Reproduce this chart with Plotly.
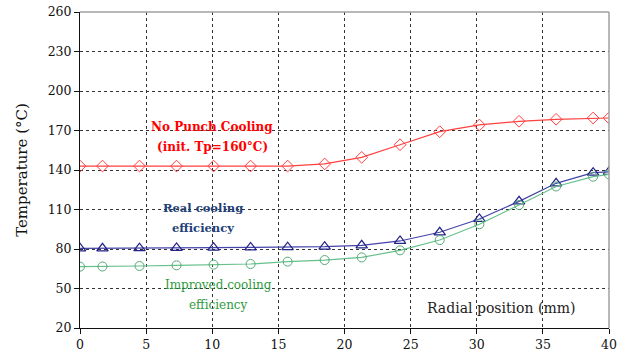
import plotly.graph_objects as go

# Radial positions of the measurement points (mm)
radial_mm = [0, 1.7, 4.5, 7.3, 10.1, 12.9, 15.7, 18.5, 21.3, 24.2, 27.2, 30.2, 33.2, 36.0, 38.8, 40]

# Temperatures (°C) for each cooling condition
no_punch_cooling = [143, 143, 143, 143, 143, 143, 143, 144.6, 149.6, 159.2, 169.1, 174.2, 177.0, 178.5, 179.5, 179.5]
real_cooling = [80.5, 80.5, 80.6, 80.8, 81.0, 81.2, 81.4, 81.8, 82.8, 86.1, 92.7, 102.8, 116.2, 129.9, 138.0, 138.6]
improved_cooling = [66.6, 66.7, 67.1, 67.6, 68.1, 68.6, 70.4, 71.6, 73.6, 79.0, 86.8, 98.8, 113.4, 127.5, 134.9, 136.7]

x_ticks = [0, 5, 10, 15, 20, 25, 30, 35, 40]
y_ticks = [20, 50, 80, 110, 140, 170, 200, 230, 260]

FONT = "DejaVu Serif"

fig = go.Figure()

fig.add_trace(go.Scatter(
    x=radial_mm, y=no_punch_cooling, mode="lines+markers",
    line=dict(color="#FF4040", width=1.2),
    marker=dict(symbol="diamond-open", size=9, color="#FF4040", line=dict(width=1)),
    showlegend=False,
))
fig.add_trace(go.Scatter(
    x=radial_mm, y=real_cooling, mode="lines+markers",
    line=dict(color="#4444AA", width=1.2),
    marker=dict(symbol="triangle-up-open", size=10, color="#222288", line=dict(width=1.2)),
    showlegend=False,
))
fig.add_trace(go.Scatter(
    x=radial_mm, y=improved_cooling, mode="lines+markers",
    line=dict(color="#66C08A", width=1.2),
    marker=dict(symbol="circle-open", size=9, color="#55AA77", line=dict(width=1)),
    showlegend=False,
))

annotations = [
    dict(x=10.0, y=172.7, text="<b>No Punch Cooling</b>", font=dict(color="#FF0000", size=12)),
    dict(x=10.0, y=157.5, text="<b>(init. Tp=160°C)</b>", font=dict(color="#FF0000", size=12)),
    dict(x=9.3, y=111, text="<b>Real cooling</b>", font=dict(color="#1F3F78", size=11.5)),
    dict(x=9.3, y=96, text="<b>efficiency</b>", font=dict(color="#1F3F78", size=11.5)),
    dict(x=10.5, y=52.7, text="Improved cooling", font=dict(color="#2E9A3E", size=12)),
    dict(x=10.5, y=37.5, text="efficiency", font=dict(color="#2E9A3E", size=12)),
    dict(x=31.8, y=35.5, text="Radial position (mm)", font=dict(color="#222222", size=14)),
]
for a in annotations:
    a.update(xref="x", yref="y", showarrow=False, xanchor="center", yanchor="middle")
    a["font"]["family"] = FONT

fig.update_layout(
    width=626, height=359,
    margin=dict(l=80, r=17, t=12, b=31),
    paper_bgcolor="white", plot_bgcolor="white",
    font=dict(family=FONT, size=12, color="#111111"),
    annotations=annotations,
    shapes=[
        dict(type="line", xref="paper", yref="paper", x0=0, x1=1, y0=1, y1=1,
             line=dict(color="#A0A0A0", width=1.5)),
        dict(type="line", xref="paper", yref="paper", x0=1, x1=1, y0=0, y1=1,
             line=dict(color="#A0A0A0", width=1.5)),
    ],
)

fig.update_xaxes(
    range=[0, 40], tickvals=x_ticks, showgrid=True, automargin=False,
    gridcolor="#333333", griddash="dot", gridwidth=1,
    showline=True, linecolor="#111111", linewidth=1,
    ticks="outside", ticklen=5, tickcolor="#111111",
    tickfont=dict(family=FONT, size=12.5), zeroline=False,
)
fig.update_yaxes(
    range=[20, 260], tickvals=y_ticks, showgrid=True, automargin=False,
    gridcolor="#333333", griddash="dot", gridwidth=1,
    showline=True, linecolor="#111111", linewidth=1,
    ticks="outside", ticklen=5, tickcolor="#111111",
    tickfont=dict(family=FONT, size=12.5), zeroline=False,
    title=dict(text="Temperature (°C)", font=dict(family=FONT, size=15), standoff=16),
)

fig.write_html("out.html")
